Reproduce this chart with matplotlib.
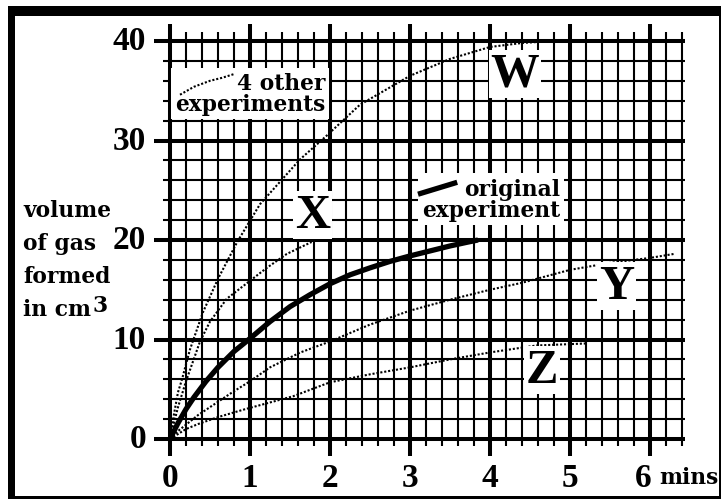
import numpy as np
import matplotlib
matplotlib.use("Agg")
import matplotlib.pyplot as plt
from matplotlib.patches import Rectangle

# ---------------- data ----------------
orig_t = [0, 0.1, 0.2, 0.3, 0.45, 0.6, 0.8, 1.0, 1.25, 1.5, 1.75, 2.0, 2.25, 2.5, 2.75, 3.0, 3.25, 3.5, 3.7, 3.85]
orig_v = [0, 1.6, 3.0, 4.2, 5.8, 7.2, 8.8, 10.1, 11.8, 13.3, 14.5, 15.6, 16.5, 17.2, 17.85, 18.4, 18.9, 19.4, 19.75, 20.0]

w_t = [0, 0.05, 0.1, 0.15, 0.25, 0.41, 0.6, 0.84, 1.125, 1.625, 1.96, 2.375, 3.0, 3.5, 4.0, 4.4, 4.78]
w_v = [0, 2.5, 4.7, 6.0, 9.0, 12.7, 16.1, 19.8, 23.6, 28.1, 30.5, 33.6, 36.5, 38.2, 39.4, 39.8, 40.0]

x_t = [0, 0.1, 0.2, 0.375, 0.5, 0.71, 1.0, 1.21, 1.46, 1.77]
x_v = [0, 3.2, 5.8, 9.8, 11.8, 14.1, 15.9, 17.2, 18.6, 19.8]

y_t = [0, 0.1, 0.35, 0.78, 1.0, 1.25, 1.63, 2.0, 2.5, 3.0, 3.5, 4.0, 4.4, 5.0, 5.5, 6.0, 6.3]
y_v = [0, 0.8, 2.4, 4.7, 5.8, 7.2, 8.7, 9.8, 11.5, 12.9, 14.0, 15.0, 15.7, 17.0, 17.7, 18.2, 18.6]

z_t = [0, 0.2, 0.35, 0.6, 0.94, 1.54, 2.0, 2.5, 3.0, 3.5, 4.0, 4.58, 5.2]
z_v = [0, 1.0, 1.5, 2.2, 3.0, 4.3, 5.7, 6.5, 7.2, 8.0, 8.7, 9.4, 9.6]

x_ticks = [0, 1, 2, 3, 4, 5, 6]
x_labels = ["0", "1", "2", "3", "4", "5", "6"]
y_ticks = [0, 10, 20, 30, 40]
y_labels = ["0", "10", "20", "30", "40"]

curve_names = ["W", "X", "Y", "Z"]
curve_label_pos = [(4.31, 36.7), (1.78, 22.5), (5.58, 15.4), (4.65, 6.9)]

# ---------------- figure ----------------
W_PX, H_PX = 722, 502
fig = plt.figure(figsize=(W_PX / 100, H_PX / 100), dpi=100)
fig.patch.set_facecolor("white")

# axes placed so that x=0 -> px 170, 80 px/min ; y=0 -> py 440, 9.95 px/unit
xl = (-0.3, 6.6)
yl = (-2.5, 43.0)
left = (170 + xl[0] * 80) / W_PX
width = (xl[1] - xl[0]) * 80 / W_PX
bottom_py = 440 - yl[0] * 9.95
top_py = 440 - yl[1] * 9.95
ax = fig.add_axes([left, 1 - bottom_py / H_PX, width, (bottom_py - top_py) / H_PX])
ax.set_xlim(*xl)
ax.set_ylim(*yl)
ax.axis("off")

# ---------------- frame ----------------
def frame_rect(x0, y0, x1, y1):
    fig.patches.append(Rectangle((x0 / W_PX, 1 - y1 / H_PX), (x1 - x0) / W_PX, (y1 - y0) / H_PX,
                                 transform=fig.transFigure, facecolor="black", edgecolor="none"))

frame_rect(8, 7, 721, 17)    # top (thick)
frame_rect(8, 7, 15, 500)    # left (thick)
frame_rect(719, 7, 721, 500)  # right
frame_rect(8, 497, 721, 500)  # bottom

# ---------------- grid ----------------
grid_x = np.round(np.arange(0, 6.41, 0.2), 2)
grid_y = np.arange(0, 41, 2)
minor_x = [g for g in grid_x if abs(g - round(g)) > 1e-6]
major_x = [g for g in grid_x if abs(g - round(g)) <= 1e-6]
minor_y = [g for g in grid_y if g % 10 != 0]
major_y = [g for g in grid_y if g % 10 == 0]

ax.vlines(minor_x, -0.7, 40.9, colors="black", lw=1.5, zorder=1)
ax.vlines(major_x, -1.7, 41.7, colors="black", lw=2.9, zorder=1)
ax.hlines(minor_y, -0.09, 6.44, colors="black", lw=1.5, zorder=1)
ax.hlines(major_y, -0.2, 6.44, colors="black", lw=2.9, zorder=1)

# ---------------- curves ----------------
thin = dict(color="black", lw=1.5, linestyle=(0, (1.0, 0.9)))
for t, v in [(w_t, w_v), (x_t, x_v), (y_t, y_v), (z_t, z_v)]:
    ax.plot(t, v, zorder=3, **thin)
ax.plot(orig_t, orig_v, color="black", lw=3.8, solid_capstyle="butt",
        solid_joinstyle="round", zorder=4)

# ---------------- tick labels ----------------
num_font = dict(family="Liberation Serif", weight="bold", size=24)
for xt, lab in zip(x_ticks, x_labels):
    dx = -0.09 if xt == 6 else 0
    ax.text(xt + dx, -3.85, lab, ha="center", va="center", **num_font)
for yt, lab in zip(y_ticks, y_labels):
    ax.text(-0.3, yt, lab, ha="right", va="center", **num_font)

word_font = dict(family="DejaVu Serif", weight="bold", size=15.7)
ax.text(6.12, -3.85, "mins", ha="left", va="center", **word_font)

# left axis label
lines = ["volume", "of gas", "formed", "in cm"]
baselines = [217, 250, 283, 316]
last = None
for s, b in zip(lines, baselines):
    last = fig.text(23 / W_PX, 1 - b / H_PX, s, ha="left", va="baseline", **word_font)
ax.annotate("3", xy=(1, 1), xycoords=last, xytext=(1, 4), textcoords="offset pixels",
            ha="left", va="top", **word_font)

# ---------------- curve letters ----------------
white_box = dict(facecolor="white", edgecolor="none", pad=1.5)
for name, (px, py) in zip(curve_names, curve_label_pos):
    ax.text(px, py, name, ha="center", va="center", family="Liberation Serif",
            weight="bold", size=35, bbox=white_box, zorder=6)

# ---------------- key texts ----------------
ax.text(1.94, 34.7, "4 other\nexperiments", ha="right", va="center", multialignment="right",
        linespacing=0.95, bbox=dict(facecolor="white", edgecolor="none", pad=3), zorder=6, **word_font)
ax.plot([0.125, 0.3, 0.5, 0.65, 0.81], [34.6, 35.4, 36.0, 36.3, 36.7], zorder=7, **thin)

ax.text(4.875, 24.1, "original\nexperiment", ha="right", va="center", multialignment="right",
        linespacing=0.95, bbox=dict(facecolor="white", edgecolor="none", pad=3), zorder=6, **word_font)
ax.plot([3.1, 3.59], [24.6, 25.8], color="black", lw=3.8, zorder=7, solid_capstyle="butt")

fig.savefig("out.png", dpi=100, facecolor="white")
